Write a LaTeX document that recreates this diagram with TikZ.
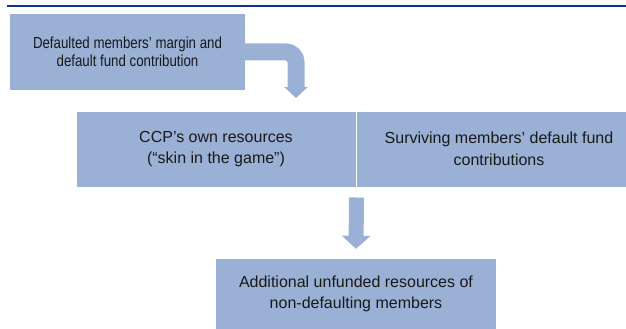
\documentclass[tikz,border=0pt]{standalone}
\usepackage{fontspec}
\setmainfont{Liberation Sans}
\newfontfamily\condfont[FakeStretch=0.83]{Liberation Sans}
\usetikzlibrary{arrows.meta}
\definecolor{boxblue}{RGB}{155,176,213}
\definecolor{rulblue}{RGB}{10,50,150}
\begin{document}
\begin{tikzpicture}[x=1pt,y=-1pt,
  boxstyle/.style={fill=boxblue, draw=none, inner sep=0pt, align=center,
    font=\fontsize{16}{21.5}\selectfont, text=black!90}]
\useasboundingbox (0,0) rectangle (626,329);
\draw[rulblue, line width=2pt] (7,6) -- (626,6);
\node[boxstyle, minimum width=235pt, minimum height=76pt,
  font=\condfont\fontsize{16}{17.7}\selectfont] (b1) at (127.5,52)
  {Defaulted members’ margin and\\default fund contribution};
\node[boxstyle, minimum width=280pt, minimum height=76pt, draw=white, line width=1pt] (b2l) at (216,149)
  {CCP’s own resources\\(“skin in the game”)};
\node[boxstyle, minimum width=286pt, minimum height=76pt, draw=white, line width=1pt] (b2r) at (499,149)
  {Surviving members’ default fund\\contributions};
\node[boxstyle, minimum width=280pt, minimum height=70pt] (b3) at (356,294)
  {Additional unfunded resources of\\non-defaulting members};
\coordinate (t1) at (296,98);
\draw[draw=boxblue, line width=17pt, rounded corners=10pt,
  -{Triangle[width=23pt,length=11pt]}]
  (b1.east) -| (t1);
\draw[draw=boxblue, line width=15pt, -{Triangle[width=28pt,length=13pt]}]
  ([yshift=-10pt]b2l.south east) -- ([yshift=10pt]b3.north);
\end{tikzpicture}
\end{document}
